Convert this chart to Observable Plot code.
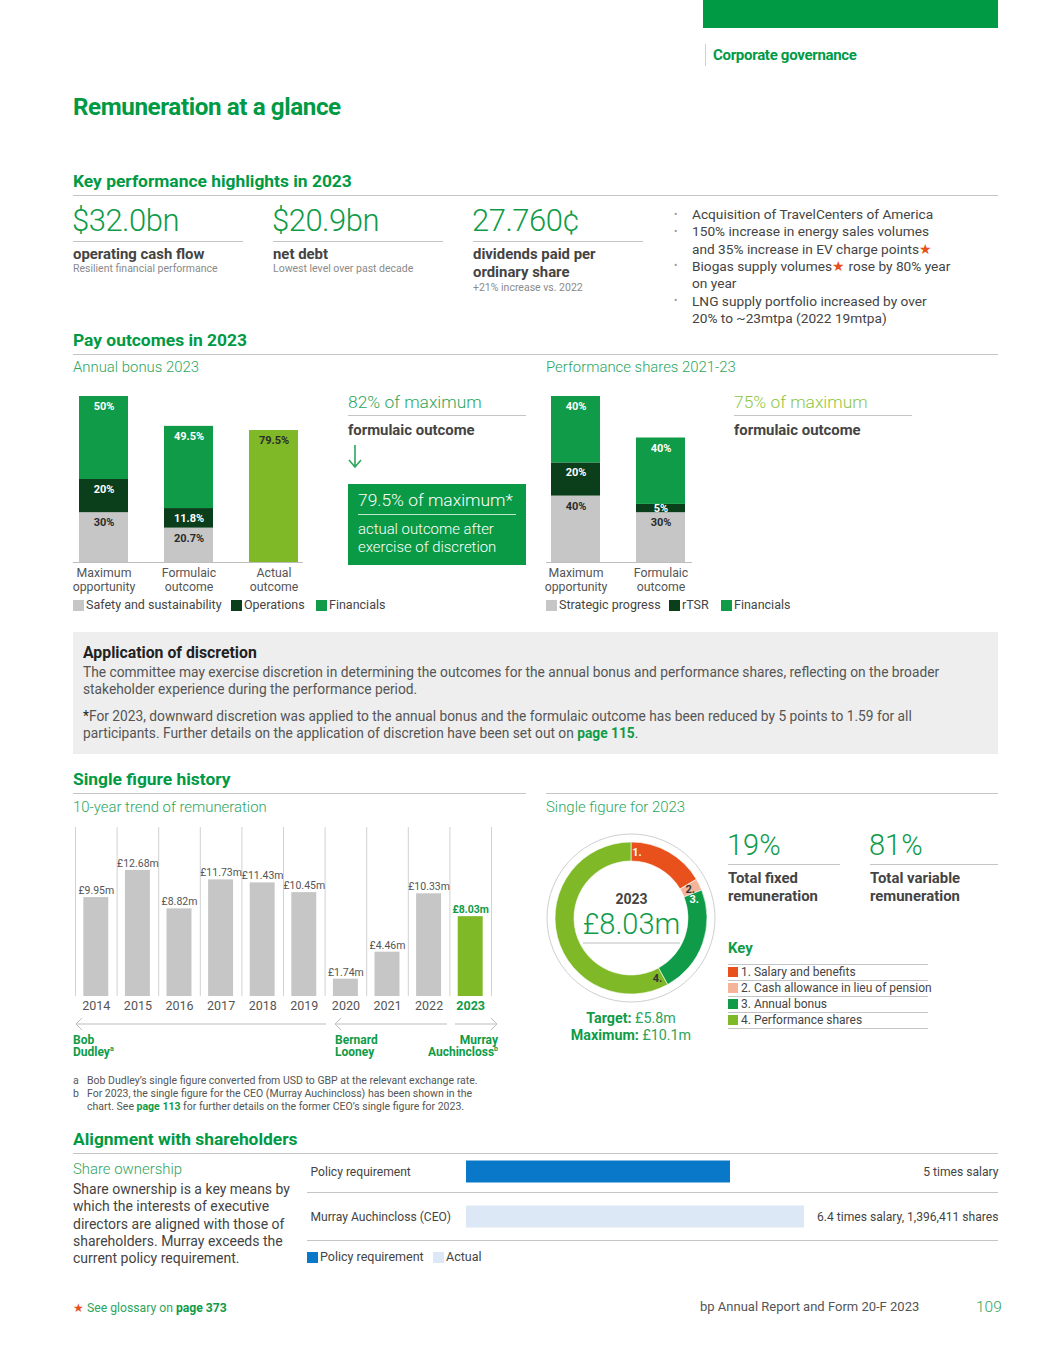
<!DOCTYPE html>
<html>
<head>
<meta charset="utf-8">
<script src="https://cdn.jsdelivr.net/npm/d3@7"></script>
<script src="https://cdn.jsdelivr.net/npm/@observablehq/plot@0.6"></script>
<style>
  html, body { margin: 0; padding: 0; background: #fff; }
  body { font-family: Roboto, "Noto Sans", sans-serif; }
  #page { position: relative; width: 1048px; height: 1365px; overflow: hidden; }
  .t { position: absolute; white-space: nowrap; }
  .r { position: absolute; }
  .g { color: #0f9b48; font-weight: 700; }
  .star { color: #e8501c; }
  .chart { position: absolute; }
  .chart svg { overflow: visible; }
</style>
</head>
<body>
<div id="page"></div>
<script>
// ---------------- DATA ----------------
const bonusCategories = ["Maximum\nopportunity", "Formulaic\noutcome", "Actual\noutcome"];
const bonusSafety = [30, 20.7, 0];
const bonusOperations = [20, 11.8, 0];
const bonusFinancials = [50, 49.5, 0];
const bonusActual = [0, 0, 79.5];
const bonusSeries = ["Safety and sustainability", "Operations", "Financials", "Actual outcome"];

const psCategories = ["Maximum\nopportunity", "Formulaic\noutcome"];
const psStrategic = [40, 30];
const psRTSR = [20, 5];
const psFinancials = [40, 40];
const psSeries = ["Strategic progress", "rTSR", "Financials"];

const years = [2014, 2015, 2016, 2017, 2018, 2019, 2020, 2021, 2022, 2023];
const remuneration = [9.95, 12.68, 8.82, 11.73, 11.43, 10.45, 1.74, 4.46, 10.33, 8.03];

const donutLabels = ["1. Salary and benefits", "2. Cash allowance in lieu of pension", "3. Annual bonus", "4. Performance shares"];
const donutShares = [16.5, 2.5, 23, 58];

const shareRows = ["Policy requirement", "Murray Auchincloss (CEO)"];
const shareMultiples = [5, 6.4];
const shareNotes = ["5 times salary", "6.4 times salary, 1,396,411 shares"];

// ---------------- COLOURS ----------------
const GREEN = "#0f9b48", TGREEN = "#2ea55c", DARK = "#0b3f1c", LIME = "#80b928",
      GREY = "#c6c6c6", ORANGE = "#e8501c", PEACH = "#f4b499", BLUE = "#0a78c8", LBLUE = "#dde8f6";

const page = document.getElementById("page");
function T(x, yc, html, o = {}) {
  const size = o.size ?? 13, L = o.lh ?? Math.round(size * 1.3);
  const el = document.createElement("div");
  el.className = "t";
  el.style.top = (yc - L / 2) + "px";
  el.style.fontSize = size + "px";
  el.style.lineHeight = L + "px";
  el.style.fontWeight = o.weight ?? 400;
  el.style.color = o.color ?? "#444";
  if (o.ls) el.style.letterSpacing = o.ls;
  if (o.align === "right") { el.style.right = (1048 - x) + "px"; el.style.textAlign = "right"; }
  else if (o.align === "center") { el.style.left = (x - 150) + "px"; el.style.width = "300px"; el.style.textAlign = "center"; }
  else el.style.left = x + "px";
  el.innerHTML = html;
  page.appendChild(el);
  return el;
}
function R(x, y, w, h, c) {
  const el = document.createElement("div");
  el.className = "r";
  el.style.cssText = `left:${x}px;top:${y}px;width:${w}px;height:${h}px;background:${c};`;
  page.appendChild(el);
  return el;
}
function place(node, x, y, clip) {
  const d = document.createElement("div");
  d.className = "chart";
  d.style.left = x + "px"; d.style.top = y + "px";
  if (clip) d.style.overflow = "hidden";
  d.appendChild(node);
  page.appendChild(d);
}
const LINE = "#c4c4c4";
const H = 17.4, SUB = 14.9;

// ---------------- HEADER ----------------
R(703, 0, 295, 28, "#009a44");
R(705, 44, 1, 22, "#d0d0d0");
T(713, 55, "Corporate governance", { size: 15, weight: 700, color: "#009a44", ls: "-0.3px" });
T(73, 107, "Remuneration at a glance", { size: 24.2, weight: 700, color: "#009a44", ls: "-0.4px" });

// ---------------- KEY PERFORMANCE ----------------
T(73, 181, "Key performance highlights in 2023", { size: H, weight: 700, color: "#009a44" });
R(73, 195, 925, 1, LINE);
const kpis = [
  [73, "$32.0bn", ["operating cash flow"], "Resilient financial performance"],
  [273, "$20.9bn", ["net debt"], "Lowest level over past decade"],
  [473, "27.760¢", ["dividends paid per", "ordinary share"], "+21% increase vs. 2022"]
];
kpis.forEach(([x, big, lab, sub]) => {
  T(x - 1, 221, big, { size: 31, weight: 300, color: GREEN, lh: 36, ls: "-0.5px" });
  R(x, 241, 170, 1, LINE);
  lab.forEach((l, i) => T(x, 254 + i * 18, l, { size: SUB, weight: 700, color: "#444" }));
  T(x, 269 + (lab.length - 1) * 19, sub, { size: 10.5, color: "#8a8a8a" });
});
const bullets = [
  ["Acquisition of TravelCenters of America"],
  ["150% increase in energy sales volumes", "and 35% increase in EV charge points<span class='star'>★</span>"],
  ["Biogas supply volumes<span class='star'>★</span> rose by 80% year", "on year"],
  ["LNG supply portfolio increased by over", "20% to ~23mtpa (2022 19mtpa)"]
];
let by = 214;
bullets.forEach(lines => {
  T(674, by, "•", { size: 10, color: "#999" });
  lines.forEach(l => { T(692, by, l, { size: 13.7, color: "#444" }); by += 17.3; });
});

// ---------------- PAY OUTCOMES ----------------
T(73, 340, "Pay outcomes in 2023", { size: H, weight: 700, color: "#009a44" });
R(73, 354, 925, 1, LINE);
T(73, 367, "Annual bonus 2023", { size: SUB, weight: 300, color: TGREEN });
T(546, 367, "Performance shares 2021-23", { size: SUB, weight: 300, color: TGREEN });

const lightSeries = ["Safety and sustainability", "Actual outcome", "Strategic progress"];
const pct = v => v + "%";
// segment labels: white on dark greens, dark on grey/lime; thin segments get centred labels
function segmentLabels(rows) {
  const base = { x: "cat", y: "value", z: "series", fontSize: 11, fontWeight: 700 };
  const isLight = d => lightSeries.includes(d.series);
  return [
    Plot.text(rows, Plot.stackY2({ ...base, text: d => !isLight(d) && d.value >= 8 ? pct(d.value) : "", fill: "white", dy: 10 })),
    Plot.text(rows, Plot.stackY2({ ...base, text: d => !isLight(d) && d.value < 8 ? pct(d.value) : "", fill: "white", dy: 4 })),
    Plot.text(rows, Plot.stackY2({ ...base, text: d => isLight(d) ? pct(d.value) : "", fill: "#2b2b2b", dy: 10 }))
  ];
}

// Annual bonus chart
const bonusRows = [];
bonusCategories.forEach((c, i) => {
  [[bonusSeries[0], bonusSafety[i]], [bonusSeries[1], bonusOperations[i]], [bonusSeries[2], bonusFinancials[i]], [bonusSeries[3], bonusActual[i]]]
    .forEach(([s, v]) => { if (v > 0) bonusRows.push({ cat: c, series: s, value: v }); });
});
const bonusPlot = Plot.plot({
  width: 230, height: 218, marginTop: 16, marginBottom: 36, marginLeft: 0, marginRight: 0,
  style: { background: "transparent", fontFamily: "Roboto" },
  x: { type: "band", domain: bonusCategories, range: [-12.96, 243.54], paddingInner: 0.42, paddingOuter: 0.21, axis: null },
  y: { domain: [0, 100], axis: null },
  color: { domain: bonusSeries, range: [GREY, DARK, GREEN, LIME] },
  marks: [
    Plot.barY(bonusRows, { x: "cat", y: "value", fill: "series", z: "series" }),
    ...segmentLabels(bonusRows),
    Plot.ruleY([0], { stroke: "#bdbdbd" }),
    Plot.text(bonusCategories, { x: d => d, frameAnchor: "bottom", lineAnchor: "top", dy: 4, fontSize: 12.3, fill: "#555", lineHeight: 1.15 })
  ]
});
place(bonusPlot, 73, 380, true);

// legend helper
function legend(x, yc, items) {
  let cx = x;
  items.forEach(([label, color, gap]) => {
    R(cx, yc - 5.5, 11, 11, color);
    T(cx + 13, yc, label, { size: 12.5, color: "#444" });
    cx += gap;
  });
}
legend(73, 605, [["Safety and sustainability", GREY, 158], ["Operations", DARK, 85], ["Financials", GREEN, 90]]);

// 82% / 79.5% annotation
T(348, 402, "82% of maximum", { size: H, weight: 300, color: TGREEN });
R(348, 415, 178, 1, LINE);
T(348, 430, "formulaic outcome", { size: SUB, weight: 700, color: "#444" });
const arrow = document.createElementNS("http://www.w3.org/2000/svg", "svg");
arrow.setAttribute("width", 20); arrow.setAttribute("height", 30);
arrow.innerHTML = `<path d="M7,2 V24 M1,17 L7,24 L13,17" fill="none" stroke="${TGREEN}" stroke-width="1.6"/>`;
place(arrow, 348, 443);
R(348, 484, 178, 81, "#0a9a46");
T(358, 500, "79.5% of maximum*", { size: H, weight: 300, color: "#fff" });
R(358, 514, 158, 1, "rgba(255,255,255,0.75)");
T(358, 529, "actual outcome after", { size: SUB, weight: 300, color: "#fff" });
T(358, 547, "exercise of discretion", { size: SUB, weight: 300, color: "#fff" });

// Performance shares chart
const psRows = [];
psCategories.forEach((c, i) => {
  [[psSeries[0], psStrategic[i]], [psSeries[1], psRTSR[i]], [psSeries[2], psFinancials[i]]]
    .forEach(([s, v]) => psRows.push({ cat: c, series: s, value: v }));
});
const psPlot = Plot.plot({
  width: 146, height: 218, marginTop: 16, marginBottom: 36, marginLeft: 0, marginRight: 0,
  style: { background: "transparent", fontFamily: "Roboto" },
  x: { type: "band", domain: psCategories, range: [-13.26, 157.74], paddingInner: 0.42, paddingOuter: 0.21, axis: null },
  y: { domain: [0, 100], axis: null },
  color: { domain: psSeries, range: [GREY, DARK, GREEN] },
  marks: [
    Plot.barY(psRows, { x: "cat", y: "value", fill: "series", z: "series" }),
    ...segmentLabels(psRows),
    Plot.ruleY([0], { stroke: "#bdbdbd" }),
    Plot.text(psCategories, { x: d => d, frameAnchor: "bottom", lineAnchor: "top", dy: 4, fontSize: 12.3, fill: "#555", lineHeight: 1.15 })
  ]
});
place(psPlot, 546, 380);
legend(546, 605, [["Strategic progress", GREY, 123], ["rTSR", DARK, 52], ["Financials", GREEN, 90]]);

T(734, 402, "75% of maximum", { size: H, weight: 300, color: "#8cc63f" });
R(734, 415, 178, 1, LINE);
T(734, 430, "formulaic outcome", { size: SUB, weight: 700, color: "#444" });

// ---------------- APPLICATION OF DISCRETION ----------------
R(73, 632, 925, 122, "#eeeeee");
T(83, 652, "Application of discretion", { size: 15.8, weight: 700, color: "#222" });
const P = { size: 13.75, color: "#555" };
T(83, 672, "The committee may exercise discretion in determining the outcomes for the annual bonus and performance shares, reflecting on the broader", P);
T(83, 689, "stakeholder experience during the performance period.", P);
T(83, 716, "<span style='color:#222'>*</span>For 2023, downward discretion was applied to the annual bonus and the formulaic outcome has been reduced by 5 points to 1.59 for all", P);
T(83, 733, "participants. Further details on the application of discretion have been set out on <span class='g'>page 115</span>.", P);

// ---------------- SINGLE FIGURE HISTORY ----------------
T(73, 779, "Single figure history", { size: H, weight: 700, color: "#009a44" });
R(73, 793, 453, 1, LINE);
R(546, 793, 452, 1, LINE);
T(73, 807, "10-year trend of remuneration", { size: SUB, weight: 300, color: TGREEN });
T(546, 807, "Single figure for 2023", { size: SUB, weight: 300, color: TGREEN });

const remRows = years.map((y, i) => ({ year: y, value: remuneration[i], idx: i }));
const isNow = d => d.year === years[years.length - 1];
const remPlot = Plot.plot({
  width: 432, height: 196, marginTop: 7, marginBottom: 20, marginLeft: 5, marginRight: 11,
  style: { background: "transparent", fontFamily: "Roboto" },
  x: { domain: [0, years.length], axis: null },
  y: { domain: [0, 17], axis: null },
  marks: [
    Plot.ruleX(d3.range(years.length + 1), { stroke: "#d2d2d2" }),
    Plot.rectY(remRows, { filter: d => !isNow(d), x1: d => d.idx + 0.2, x2: d => d.idx + 0.8, y: "value", fill: GREY }),
    Plot.rectY(remRows, { filter: isNow, x1: d => d.idx + 0.2, x2: d => d.idx + 0.8, y: "value", fill: LIME }),
    Plot.text(remRows, { filter: d => !isNow(d), x: d => d.idx + 0.5, y: "value", text: d => `£${d.value.toFixed(2)}m`, dy: -7, fontSize: 10.5, fill: "#555" }),
    Plot.text(remRows, { filter: isNow, x: d => d.idx + 0.5, y: "value", text: d => `£${d.value.toFixed(2)}m`, dy: -7, fontSize: 10.5, fill: GREEN, fontWeight: 700 }),
    Plot.text(remRows, { filter: d => !isNow(d), x: d => d.idx + 0.5, text: d => String(d.year), frameAnchor: "bottom", lineAnchor: "middle", dy: 9, fontSize: 12.5, fill: "#555" }),
    Plot.text(remRows, { filter: isNow, x: d => d.idx + 0.5, text: d => String(d.year), frameAnchor: "bottom", lineAnchor: "middle", dy: 9, fontSize: 12.5, fill: GREEN, fontWeight: 700 })
  ]
});
place(remPlot, 70, 820);

const arrows = document.createElementNS("http://www.w3.org/2000/svg", "svg");
arrows.setAttribute("width", 440); arrows.setAttribute("height", 20);
arrows.innerHTML = `<g fill="none" stroke="#bdbdbd" stroke-width="1">
  <path d="M6,10 H256 M12,4 L6,10 L12,16"/>
  <path d="M265,10 H377 M271,4 L265,10 L271,16"/>
  <path d="M385,10 H427 M421,4 L427,10 L421,16"/></g>`;
place(arrows, 70, 1014);
T(73, 1040, "Bob<br>Dudley<sup style='font-size:7px;line-height:0'>a</sup>", { size: 12, weight: 700, color: GREEN, lh: 12 });
T(335, 1040, "Bernard<br>Looney", { size: 12, weight: 700, color: GREEN, lh: 12 });
T(498, 1040, "Murray<br>Auchincloss<sup style='font-size:7px;line-height:0'>b</sup>", { size: 12, weight: 700, color: GREEN, lh: 12, align: "right" });

// Donut
const donutColors = [ORANGE, PEACH, GREEN, LIME];
const donutLabelColors = ["#fff", "#333", "#fff", "#333"];
const donutRows = donutLabels.map((l, i) => ({ label: l, share: donutShares[i] }));
const donutMark = (index, scales, values, dims) => {
  const g = d3.create("svg:g").attr("transform", `translate(${dims.width / 2},${dims.height / 2})`);
  g.append("circle").attr("r", 84).attr("fill", "none").attr("stroke", "#cfcfcf");
  const arcs = d3.pie().sort(null).value(d => d.share)(donutRows);
  const arc = d3.arc().innerRadius(57).outerRadius(76);
  g.selectAll("path").data(arcs).join("path").attr("d", arc)
    .attr("fill", (d, i) => donutColors[i]).attr("stroke", "#fff").attr("stroke-width", 0.6);
  g.selectAll("text").data(arcs).join("text")
    .attr("x", d => 66 * Math.sin(d.startAngle + Math.min(0.09, (d.endAngle - d.startAngle) / 2)))
    .attr("y", d => -66 * Math.cos(d.startAngle + Math.min(0.09, (d.endAngle - d.startAngle) / 2)))
    .attr("dy", "0.35em").attr("text-anchor", "middle")
    .attr("font-size", 11).attr("font-weight", 700)
    .attr("fill", (d, i) => donutLabelColors[i])
    .text(d => d.data.label.split(" ")[0]);
  g.append("line").attr("x1", -48).attr("x2", 49).attr("y1", 25).attr("y2", 25).attr("stroke", "#bdbdbd");
  return g.node();
};
const donutPlot = Plot.plot({
  width: 170, height: 184, margin: 0,
  style: { background: "transparent", fontFamily: "Roboto" },
  x: { axis: null }, y: { axis: null },
  marks: [
    donutMark,
    Plot.text([String(years[years.length - 1])], { frameAnchor: "middle", dy: -19, fontSize: 14, fontWeight: 700, fill: "#444" }),
    Plot.text([`£${remuneration[remuneration.length - 1].toFixed(2)}m`], { frameAnchor: "middle", dy: 6, fontSize: 29, fontWeight: 300, fill: GREEN })
  ]
});
place(donutPlot, 546, 826);
T(631, 1018, "<b style='color:#0f9b48'>Target:</b> £5.8m", { size: 14.3, color: TGREEN, align: "center" });
T(631, 1035, "<b style='color:#0f9b48'>Maximum:</b> £10.1m", { size: 14.3, color: TGREEN, align: "center" });

T(727, 845, "19%", { size: 29, weight: 300, color: GREEN, lh: 34 });
R(728, 864, 112, 1, LINE);
T(728, 878, "Total fixed", { size: SUB, weight: 700, color: "#444" });
T(728, 896, "remuneration", { size: SUB, weight: 700, color: "#444" });
T(869, 845, "81%", { size: 29, weight: 300, color: GREEN, lh: 34 });
R(870, 864, 128, 1, LINE);
T(870, 878, "Total variable", { size: SUB, weight: 700, color: "#444" });
T(870, 896, "remuneration", { size: SUB, weight: 700, color: "#444" });

T(728, 948, "Key", { size: SUB, weight: 700, color: GREEN });
[964, 980, 996, 1012, 1028].forEach(y => R(728, y, 200, 1, LINE));
donutLabels.forEach((l, i) => {
  R(728, 972 + i * 16 - 5, 10, 10, donutColors[i]);
  T(741, 972 + i * 16, l, { size: 12, color: "#444" });
});

// footnotes
const F = { size: 10.5, color: "#555" };
T(73, 1081, "a", F);
T(87, 1081, "Bob Dudley’s single figure converted from USD to GBP at the relevant exchange rate.", F);
T(73, 1094, "b", F);
T(87, 1094, "For 2023, the single figure for the CEO (Murray Auchincloss) has been shown in the", F);
T(87, 1107, "chart. See <span class='g'>page 113</span> for further details on the former CEO’s single figure for 2023.", F);

// ---------------- ALIGNMENT ----------------
T(73, 1139, "Alignment with shareholders", { size: H, weight: 700, color: "#009a44" });
R(73, 1153, 925, 1, LINE);
T(73, 1169, "Share ownership", { size: SUB, weight: 300, color: TGREEN });
["Share ownership is a key means by", "which the interests of executive", "directors are aligned with those of", "shareholders. Murray exceeds the", "current policy requirement."]
  .forEach((l, i) => T(73, 1189 + i * 17.3, l, { size: 14, color: "#444" }));

R(307, 1192, 691, 1, LINE);
R(307, 1240, 691, 1, LINE);
const shareData = shareRows.map((r, i) => ({ row: r, value: shareMultiples[i], note: shareNotes[i] }));
const sharePlot = Plot.plot({
  width: 691, height: 92, marginLeft: 159, marginRight: 4, marginTop: 0, marginBottom: 0,
  style: { background: "transparent", fontFamily: "Roboto" },
  x: { domain: [0, 10], axis: null },
  y: { type: "band", domain: shareRows, range: [-1.5, 88.5], padding: 0, axis: null },
  color: { domain: shareRows, range: [BLUE, LBLUE] },
  marks: [
    Plot.barX(shareData, { y: "row", x: "value", fill: "row", insetTop: 11.5, insetBottom: 11.5 }),
    Plot.ruleX([shareMultiples[0]], { x: d => d, y: () => shareRows[1], insetTop: 11.5, insetBottom: 11.5, stroke: BLUE, strokeWidth: 1.6, strokeDasharray: "4,3" }),
    Plot.text(shareData, { y: "row", text: "row", frameAnchor: "left", dx: -156, textAnchor: "start", fontSize: 12.1, fill: "#444" }),
    Plot.text(shareData, { y: "row", text: "note", frameAnchor: "right", dx: 4, textAnchor: "end", fontSize: 12.1, fill: "#444" })
  ]
});
place(sharePlot, 307, 1150);
legend(307, 1257, [["Policy requirement", BLUE, 126], ["Actual", LBLUE, 60]]);

// ---------------- FOOTER ----------------
T(73, 1308, "<span class='star'>★</span> See glossary on <span class='g'>page 373</span>", { size: 12.2, color: TGREEN });
T(700, 1306, "bp Annual Report and Form 20-F 2023", { size: 13, color: "#555" });
T(976, 1307, "109", { size: 15.5, weight: 300, color: TGREEN });
</script>
</body>
</html>
